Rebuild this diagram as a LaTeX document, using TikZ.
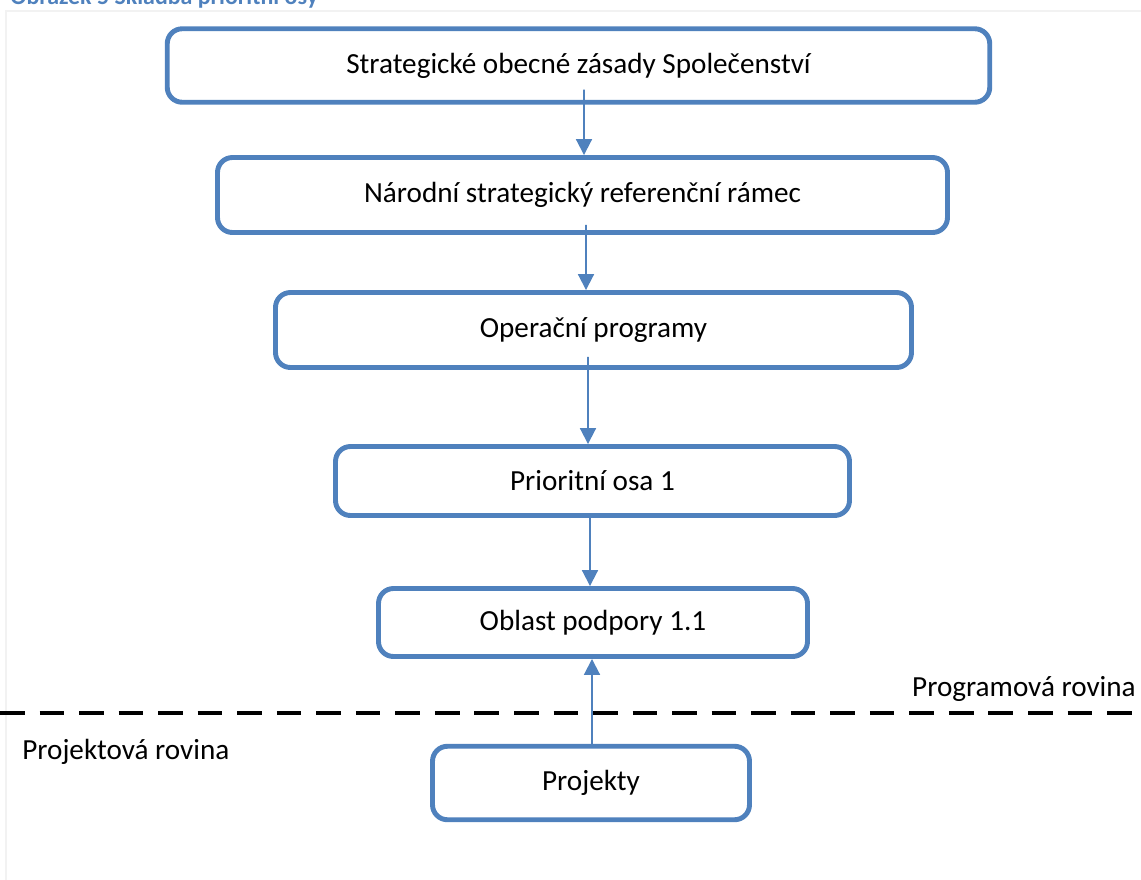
\documentclass[tikz,border=0pt]{standalone}
\usepackage{fontspec}
\setmainfont{Carlito}
\definecolor{boxblue}{RGB}{79, 129, 189}
\definecolor{framegray}{RGB}{242, 242, 242}
\usetikzlibrary{positioning, arrows.meta}

\begin{document}
\begin{tikzpicture}[
    level/.style={draw=boxblue, line width=2.8pt, rounded corners=8.5pt, fill=white,
                  minimum height=1.47cm, align=center,
                  font=\fontsize{16.6}{20}\selectfont},
    arr/.style={-{Triangle[length=9pt, width=9pt]}, line width=1.1pt, color=boxblue},
    rovina/.style={font=\fontsize{16.6}{20}\selectfont, inner sep=0pt},
  ]
    \useasboundingbox (0,0) rectangle (22.82,-17.6);
    %% faint frame and clipped caption
    \draw[framegray, line width=1.2pt] (0.12,-0.22) rectangle (23.2,-18);
    \node[anchor=base west, inner sep=0pt, text=boxblue,
          font=\fontsize{13.6}{16}\selectfont\bfseries] (cap) at (0.2,-0.08)
      {Obrázek 5 Skladba prioritní osy};

    %% levels, centred near x = 11.8
    \node[level, minimum width=16.45cm] (sos) at (11.57, -1.31)
      {Strategické obecné zásady Společenství};
    \node[level, minimum width=14.6cm, minimum height=1.5cm] (nsrr) at (11.65, -3.9)
      {Národní strategický referenční rámec};
    \node[level, minimum width=12.72cm, minimum height=1.5cm] (op) at (11.87, -6.6)
      {Operační programy};
    \node[level, minimum width=10.28cm, minimum height=1.38cm] (osa) at (11.85, -9.62)
      {Prioritní osa 1};
    \node[level, minimum width=8.58cm, minimum height=1.36cm] (oblast) at (11.86, -12.45)
      {Oblast podpory 1.1};
    \node[level, minimum width=6.34cm] (proj) at (11.82, -15.66)
      {Projekty};

    % boundary between programme and project level
    \draw[black, line width=2.3pt, dash pattern=on 14pt off 8.5pt]
      (0,-14.26) -- (22.82,-14.26);
    \node[rovina, anchor=east] (prog) at (22.72, -13.78) {Programová rovina};
    \node[rovina, anchor=west] (projr) at (0.44, -15.04) {Projektová rovina};

    \draw[arr] ([xshift=0.11cm, yshift=0.3cm]sos.south) -- ([xshift=0.03cm]nsrr.north);
    \draw[arr] ([xshift=0.07cm, yshift=0.2cm]nsrr.south) -- ([xshift=-0.15cm]op.north);
    \draw[arr] ([xshift=-0.11cm, yshift=0.26cm]op.south) -- ([xshift=-0.09cm]osa.north);
    \draw[arr] ([xshift=-0.05cm]osa.south) -- ([xshift=-0.06cm]oblast.north);
    \draw[arr] ([xshift=0.02cm]proj.north) -- ([xshift=-0.02cm]oblast.south);
  \end{tikzpicture}
\end{document}
